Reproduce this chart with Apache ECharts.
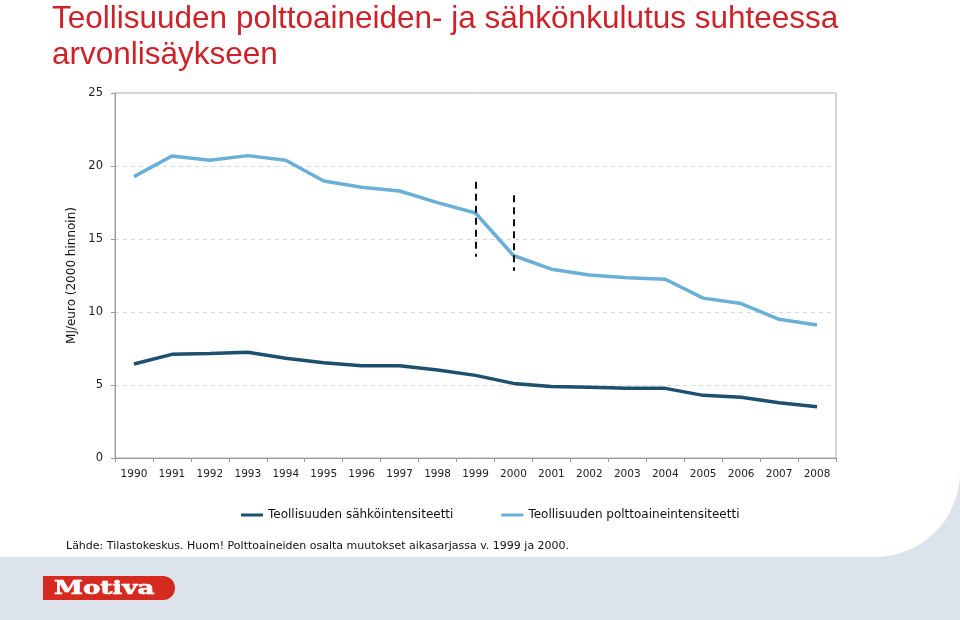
<!DOCTYPE html>
<html>
<head>
<meta charset="utf-8">
<script src="https://cdn.jsdelivr.net/npm/echarts@6/dist/echarts.min.js"></script>
<style>html,body{margin:0;padding:0;background:#fff}#c{width:960px;height:620px}</style>
</head>
<body>
<div id="c"></div>
<script>
var years = ['1990','1991','1992','1993','1994','1995','1996','1997','1998','1999','2000','2001','2002','2003','2004','2005','2006','2007','2008'];
var electricity = [6.44,7.1,7.15,7.24,6.83,6.53,6.32,6.32,6.03,5.66,5.11,4.89,4.84,4.77,4.77,4.29,4.16,3.79,3.51];
var fuel = [19.27,20.68,20.39,20.71,20.39,18.97,18.54,18.29,17.49,16.78,13.87,12.93,12.53,12.35,12.24,10.95,10.58,9.5,9.11];
var breakYears = ['1999','2000'];
var breakTop = [18.92,18.0];
var breakBottom = [13.79,12.83];
var seriesNames = ['Teollisuuden sähköintensiteetti','Teollisuuden polttoaineintensiteetti'];
var titleText = 'Teollisuuden polttoaineiden- ja sähkönkulutus suhteessa\narvonlisäykseen';
var yAxisName = 'MJ/euro (2000 hinnoin)';
var sourceText = 'Lähde: Tilastokeskus. Huom! Polttoaineiden osalta muutokset aikasarjassa v. 1999 ja 2000.';

var markData = breakYears.map(function(y,i){
  return [{coord:[y, breakTop[i]]},{coord:[y, breakBottom[i]]}];
});

var chart = echarts.init(document.getElementById('c'));
chart.setOption({
  animation:false,
  backgroundColor:'#dde3ea',
  graphic:[
    {type:'rect', z:-10, silent:true, shape:{x:0,y:0,width:960,height:557,r:[0,0,85,0]}, style:{fill:'#ffffff'}},
    {type:'rect', z:10, shape:{x:43,y:576,width:132,height:24,r:[0,12,12,0]}, style:{fill:'#d52a20'}},
    {type:'text', z:11, x:54, y:589, scaleX:1.45, style:{x:0,y:0,text:'Motiva',fill:'#ffffff',font:'bold 18px "DejaVu Serif"',textVerticalAlign:'middle',stroke:'#ffffff',lineWidth:0.6}},
    {type:'text', style:{x:66,y:546,text:sourceText,fill:'#111',font:'11px "DejaVu Sans"',textVerticalAlign:'middle'}}
  ],
  title:{
    text:titleText,
    left:47, top:-4,
    textStyle:{color:'#cc2229',fontFamily:'Liberation Sans',fontWeight:'normal',fontSize:31.5,lineHeight:36}
  },
  legend:{
    left:236, top:504,
    icon:'rect', itemWidth:22, itemHeight:3, itemGap:48,
    textStyle:{fontFamily:'DejaVu Sans',fontSize:12,color:'#111'},
    data:seriesNames
  },
  grid:{left:115,right:124,top:93,bottom:162,show:true,borderColor:'#aaaaaa',borderWidth:1},
  xAxis:{
    type:'category', data:years, boundaryGap:true,
    axisLine:{lineStyle:{color:'#999'}},
    axisTick:{show:true,alignWithLabel:false,length:4,lineStyle:{color:'#999'}},
    axisLabel:{fontFamily:'DejaVu Sans',fontSize:10.5,color:'#222',margin:11}
  },
  yAxis:{
    type:'value', min:0, max:25, interval:5,
    name:yAxisName, nameLocation:'middle', nameGap:37, nameRotate:90,
    nameTextStyle:{fontFamily:'DejaVu Sans',fontSize:12,color:'#111'},
    axisLine:{show:true,lineStyle:{color:'#999'}},
    axisTick:{show:true,length:4,lineStyle:{color:'#999'}},
    axisLabel:{fontFamily:'DejaVu Sans',fontSize:11.5,color:'#222',margin:12},
    splitLine:{show:true,lineStyle:{color:'#d6d6d6',type:[4,4]}}
  },
  series:[
    {name:seriesNames[0],type:'line',data:electricity,symbol:'none',smooth:false,
     lineStyle:{color:'#1d4f6e',width:3.5},itemStyle:{color:'#1d4f6e'}},
    {name:seriesNames[1],type:'line',data:fuel,symbol:'none',smooth:false,
     lineStyle:{color:'#6aafd6',width:3.5},itemStyle:{color:'#6aafd6'},
     markLine:{silent:true,symbol:['none','none'],label:{show:false},
       lineStyle:{color:'#111',type:[7,5],width:2},data:markData}}
  ]
});
</script>
</body>
</html>
